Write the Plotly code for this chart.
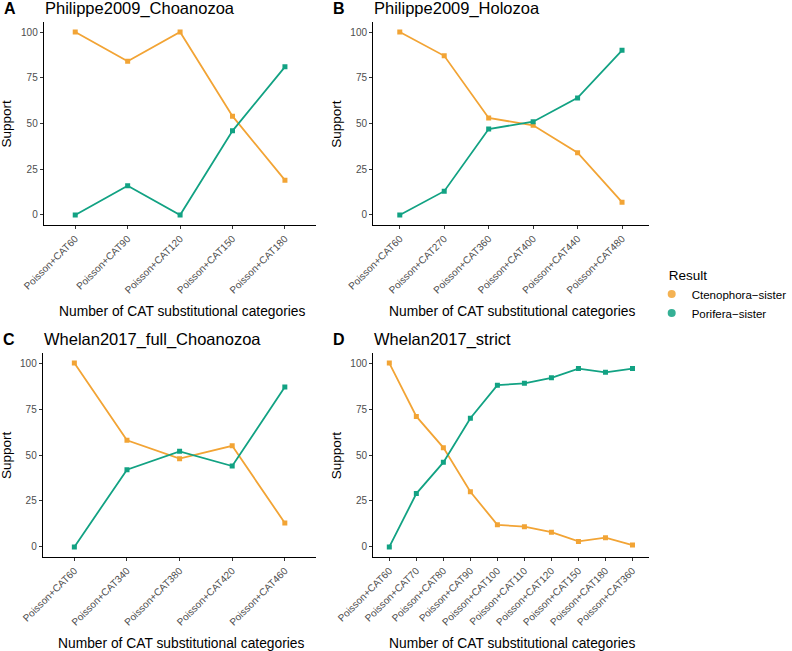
import plotly.graph_objects as go

W, H = 792, 651

# panel data
a_cats = ['Poisson+CAT60', 'Poisson+CAT90', 'Poisson+CAT120', 'Poisson+CAT150', 'Poisson+CAT180']
a_cten = [100, 84, 100, 54, 19]
a_pori = [0, 16, 0, 46, 81]

b_cats = ['Poisson+CAT60', 'Poisson+CAT270', 'Poisson+CAT360', 'Poisson+CAT400', 'Poisson+CAT440', 'Poisson+CAT480']
b_cten = [100, 87, 53, 49, 34, 7]
b_pori = [0, 13, 47, 51, 64, 90]

c_cats = ['Poisson+CAT60', 'Poisson+CAT340', 'Poisson+CAT380', 'Poisson+CAT420', 'Poisson+CAT460']
c_cten = [100, 58, 48, 55, 13]
c_pori = [0, 42, 52, 44, 87]

d_cats = ['Poisson+CAT60', 'Poisson+CAT70', 'Poisson+CAT80', 'Poisson+CAT90', 'Poisson+CAT100',
          'Poisson+CAT110', 'Poisson+CAT120', 'Poisson+CAT150', 'Poisson+CAT180', 'Poisson+CAT360']
d_cten = [100, 71, 54, 30, 12, 11, 8, 3, 5, 1]
d_pori = [0, 29, 46, 70, 88, 89, 92, 97, 95, 97]

tags = ['A', 'B', 'C', 'D']
titles = ['Philippe2009_Choanozoa', 'Philippe2009_Holozoa', 'Whelan2017_full_Choanozoa', 'Whelan2017_strict']
y_ticks = [0, 25, 50, 75, 100]

ORANGE = '#F2A435'
TEAL = '#12A283'
FONT = 'Liberation Sans, Arial, sans-serif'

panels = [
    (a_cats, a_cten, a_pori),
    (b_cats, b_cten, b_pori),
    (c_cats, c_cten, c_pori),
    (d_cats, d_cten, d_pori),
]

# pixel boxes of each panel: (left, right, top, bottom)
boxes = [
    (44, 318, 22, 225),
    (375, 652, 22, 225),
    (43, 318, 353, 557),
    (375, 652, 353, 557),
]

fig = go.Figure()
annotations = []

for i, ((cats, cten, pori), (l, r, t, b)) in enumerate(zip(panels, boxes)):
    n = i + 1
    xa = 'x' if n == 1 else f'x{n}'
    ya = 'y' if n == 1 else f'y{n}'
    for name, vals, col in [('Ctenophora\u2212sister', cten, ORANGE), ('Porifera\u2212sister', pori, TEAL)]:
        fig.add_trace(go.Scatter(
            x=cats, y=vals, mode='lines+markers', name=name,
            line=dict(color=col, width=1.8),
            marker=dict(symbol='square', size=5, color=col),
            xaxis=xa, yaxis=ya, showlegend=False,
        ))
    axis_common = dict(showline=True, linecolor='black', linewidth=1.1,
                       ticks='outside', ticklen=3, tickcolor='#333333',
                       showgrid=False, zeroline=False, automargin=False,
                       tickfont=dict(family=FONT, size=10, color='#4D4D4D'))
    fig.layout[f'xaxis{n if n > 1 else ""}'] = dict(
        domain=[l / W, r / W], anchor=ya, range=[-0.6, len(cats) - 0.4],
        tickangle=-45, type='category', **axis_common)
    fig.layout[f'yaxis{n if n > 1 else ""}'] = dict(
        domain=[1 - b / H, 1 - t / H], anchor=xa, range=[-5.5, 105.5],
        tickvals=y_ticks, **axis_common)

    # tag and title
    annotations.append(dict(text=f'<b>{tags[i]}</b>', x=(l - 42) / W, y=1 - (t - 14) / H,
                            xref='paper', yref='paper', xanchor='left', yanchor='middle',
                            showarrow=False, font=dict(family=FONT, size=16, color='black')))
    annotations.append(dict(text=titles[i], x=(l - 1) / W, y=1 - (t - 14) / H,
                            xref='paper', yref='paper', xanchor='left', yanchor='middle',
                            showarrow=False, font=dict(family=FONT, size=16.5, color='black')))
    # axis titles
    annotations.append(dict(text='Support', x=(l - 37) / W, y=1 - ((t + b) / 2) / H,
                            xref='paper', yref='paper', xanchor='center', yanchor='middle',
                            textangle=-90, showarrow=False,
                            font=dict(family=FONT, size=13.5, color='black')))
    annotations.append(dict(text='Number of CAT substitutional categories',
                            x=((l + r) / 2 + 2) / W, y=1 - (b + 86) / H,
                            xref='paper', yref='paper', xanchor='center', yanchor='middle',
                            showarrow=False, font=dict(family=FONT, size=13.8, color='black')))

# legend entries (circles like the ggplot key)
for name, col in [('Ctenophora\u2212sister', ORANGE), ('Porifera\u2212sister', TEAL)]:
    fig.add_trace(go.Scatter(x=[None], y=[None], mode='markers', name=name,
                             marker=dict(symbol='circle', size=8, color=col, opacity=0.85),
                             showlegend=True))

fig.update_layout(
    width=W, height=H,
    margin=dict(l=0, r=0, t=0, b=0),
    paper_bgcolor='white', plot_bgcolor='white',
    font=dict(family=FONT),
    annotations=annotations,
    legend=dict(title=dict(text='\u00a0\u00a0\u00a0\u00a0Result', font=dict(family=FONT, size=13.5, color='black')),
                x=655 / W, y=1 - 262 / H, xanchor='left', yanchor='top',
                font=dict(family=FONT, size=11.5, color='black'),
                bgcolor='rgba(0,0,0,0)'),
)

# drop the browser's default 8px body margin so the figure fills the window
fig.write_html("out.html", config={'displayModeBar': False},
               post_script="document.body.style.margin='0';")
